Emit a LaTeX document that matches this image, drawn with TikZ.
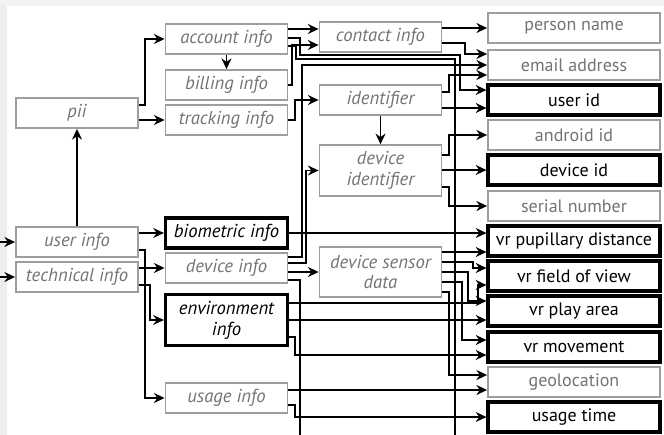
\documentclass[tikz,border=0pt]{standalone}
\usepackage{fontspec}
\setmainfont{PT Sans}
\usetikzlibrary{arrows.meta,positioning}

\begin{document}
\begin{tikzpicture}[x=0.75pt, y=0.75pt, >={Stealth[length=8pt,width=7.5pt]}]
  \tikzstyle{cat}=[draw=black!38, line width=1.4pt, text=black!55, font=\fontsize{14}{15.5}\selectfont\itshape, align=center, minimum width=91.5pt, minimum height=22.5pt, inner sep=0pt]
  \tikzstyle{catkey}=[cat, draw=black, line width=2.4pt, text=black]
  \tikzstyle{tall}=[minimum height=38pt]
  \tikzstyle{leaf}=[cat, font=\fontsize{13.5}{15}\selectfont, minimum width=129pt]
  \tikzstyle{leafkey}=[leaf, draw=black, line width=2.4pt, text=black]
  \tikzstyle{link}=[line width=1pt]
  \tikzstyle{wire}=[link, ->]

  \useasboundingbox (0,0) rectangle (664,-435);
  % page shadow
  \fill[black!5] (0,0) rectangle (664,-6);
  \fill[black!7] (0,-6) rectangle (7,-435);

  % first column
  \node[cat] (pii) at (77,-113) {pii};
  \node[cat] (uinfo) at (77,-242) {user info};
  \node[cat] (tinfo) at (77,-277) {technical info};

  % second column
  \node[cat] (acct) at (226.5,-39) {account info};
  \node[cat] (bill) at (226.5,-85) {billing info};
  \node[cat] (track) at (226.5,-120) {tracking info};
  \node[catkey] (bio) at (226.5,-233) {biometric info};
  \node[cat] (dinfo) at (226.5,-268) {device info};
  \node[catkey, tall] (env) at (226.5,-320) {environment\\info};
  \node[cat] (usage) at (226.5,-398) {usage info};

  % third column
  \node[cat] (contact) at (380.5,-37) {contact info};
  \node[cat] (ident) at (380.5,-100) {identifier};
  \node[cat, tall] (devid) at (380.5,-170.5) {device\\identifier};
  \node[cat, tall] (dsd) at (380.5,-272) {device sensor\\data};

  % data types
  \node[leaf] (pname) at (574,-28) {person name};
  \node[leaf] (email) at (574,-65) {email address};
  \node[leafkey] (uid) at (574,-100) {user id};
  \node[leaf] (aid) at (574,-135) {android id};
  \node[leafkey] (did) at (574,-170) {device id};
  \node[leaf] (serial) at (574,-206) {serial number};
  \node[leafkey] (vrpd) at (574,-241) {vr pupillary distance};
  \node[leafkey] (vrfov) at (574,-276) {vr field of view};
  \node[leafkey] (vrplay) at (574,-311) {vr play area};
  \node[leafkey] (vrmove) at (574,-347) {vr movement};
  \node[leaf] (geo) at (574,-382) {geolocation};
  \node[leafkey] (utime) at (574,-417) {usage time};

  % loose ends outside the crop
  \coordinate (inU) at (0,-242);
  \coordinate (inT) at (0,-277);
  \coordinate (outA) at (300,-435);
  \coordinate (outB) at (455,-435);

  \draw[wire] (inU) -- (uinfo.west);
  \draw[wire] (inT) -- (tinfo.west);
  \draw[wire] (uinfo.north) -- (pii.south);
  \draw[wire] (pii.east |- 0,-105) -- (145,-105) |- (acct.west);
  \draw[wire] (pii.east |- 0,-120) -- (track.west);
  \draw[wire] (acct.south) -- (bill.north);
  \draw[wire] (uinfo.east |- bio.west) -- (bio.west);
  \draw[wire] (uinfo.east |- 0,-250) -- (145,-250) |- (usage.west);
  \draw[wire] (tinfo.east |- dinfo.west) -- (dinfo.west);
  \draw[wire] (tinfo.east |- 0,-285) -- (150,-285) |- (env.west);

  \draw[wire] (acct.east |- 0,-29) -- (contact.west |- 0,-29);
  \draw[wire] (bill.east) -- (292,-85) |- (contact.west |- 0,-45);
  \draw[wire] (track.east) -- (295,-120) |- (ident.west);
  \draw[wire] (ident.south) -- (devid.north);
  \draw[wire] (dinfo.east |- 0,-263) -- (306,-263) |- (devid.west);
  \draw[wire] (dinfo.east |- 0,-272) -- (dsd.west |- 0,-272);

  \draw[wire] (acct.east |- 0,-38) -- (300,-38) |- (460,-55) |- (uid.west |- 0,-90);
  \draw[link] (acct.east |- 0,-46) -- (296,-46) |- (455,-59) -- (outB);
  \draw[wire] (dinfo.east |- 0,-257) -- (302,-257) |- (email.west |- 0,-65);
  \draw[link] (dinfo.east |- 0,-280) -- (300,-280) -- (outA);
  \draw[wire] (bio.east) -- (vrpd.west |- bio.east);
  \draw[wire] (env.east |- 0,-303) -- (478,-303) |- (vrfov.west |- 0,-285);
  \draw[wire] (env.east |- 0,-320) -- (vrplay.west |- 0,-320);
  \draw[wire] (env.east |- 0,-337) -- (295,-337) |- (vrmove.west |- 0,-355);
  \draw[wire] (usage.east |- 0,-390) -- (geo.west |- 0,-390);
  \draw[wire] (usage.east |- 0,-405) -- (295,-405) |- (utime.west);

  \draw[wire] (contact.east |- pname.west) -- (pname.west);
  \draw[wire] (contact.east |- 0,-43) -- (465,-43) |- (email.west |- 0,-54);
  \draw[wire] (ident.east |- 0,-92) -- (449,-92) |- (email.west |- 0,-75);
  \draw[wire] (ident.east |- 0,-108) -- (uid.west |- 0,-108);
  \draw[wire] (devid.east |- 0,-155) -- (449,-155) |- (aid.west);
  \draw[wire] (devid.east |- did.west) -- (did.west);
  \draw[wire] (devid.east |- 0,-187) -- (449,-187) |- (serial.west);
  \draw[wire] (dsd.east |- 0,-252) -- (vrpd.west |- 0,-252);
  \draw[wire] (dsd.east |- 0,-262) -- (473,-262) |- (vrfov.west |- 0,-268);
  \draw[wire] (dsd.east |- 0,-272) -- (468,-272) |- (vrplay.west |- 0,-301);
  \draw[wire] (dsd.east |- 0,-282) -- (462,-282) |- (vrmove.west |- 0,-340);
  \draw[wire] (dsd.east |- 0,-292) -- (449,-292) |- (geo.west |- 0,-375);
\end{tikzpicture}
\end{document}
